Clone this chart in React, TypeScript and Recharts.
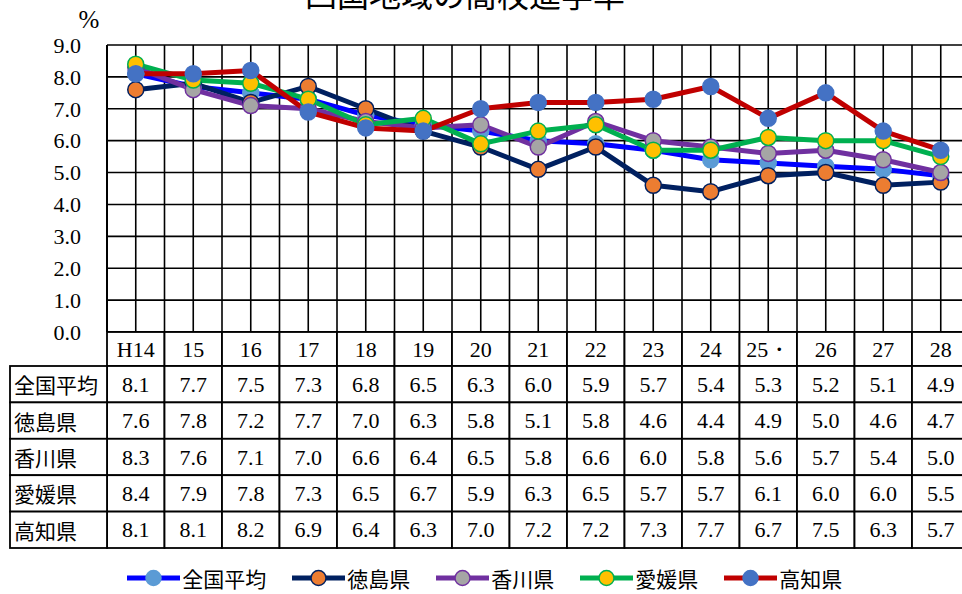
import React from 'react'
import { LineChart, Line, XAxis, YAxis, CartesianGrid, Legend } from 'recharts'

const years = ['H14', '15', '16', '17', '18', '19', '20', '21', '22', '23', '24', '25・', '26', '27', '28']

const zenkoku = [8.1, 7.7, 7.5, 7.3, 6.8, 6.5, 6.3, 6.0, 5.9, 5.7, 5.4, 5.3, 5.2, 5.1, 4.9]
const tokushima = [7.6, 7.8, 7.2, 7.7, 7.0, 6.3, 5.8, 5.1, 5.8, 4.6, 4.4, 4.9, 5.0, 4.6, 4.7]
const kagawa = [8.3, 7.6, 7.1, 7.0, 6.6, 6.4, 6.5, 5.8, 6.6, 6.0, 5.8, 5.6, 5.7, 5.4, 5.0]
const ehime = [8.4, 7.9, 7.8, 7.3, 6.5, 6.7, 5.9, 6.3, 6.5, 5.7, 5.7, 6.1, 6.0, 6.0, 5.5]
const kochi = [8.1, 8.1, 8.2, 6.9, 6.4, 6.3, 7.0, 7.2, 7.2, 7.3, 7.7, 6.7, 7.5, 6.3, 5.7]

const yTicks = [0, 1, 2, 3, 4, 5, 6, 7, 8, 9]

const SERIES = [
  { key: 'zenkoku', name: '全国平均', values: zenkoku, line: '#0000ff', fill: '#5b9bd5', stroke: '#5b9bd5' },
  { key: 'tokushima', name: '徳島県', values: tokushima, line: '#002060', fill: '#ed7d31', stroke: '#002060' },
  { key: 'kagawa', name: '香川県', values: kagawa, line: '#7030a0', fill: '#a5a5a5', stroke: '#7030a0' },
  { key: 'ehime', name: '愛媛県', values: ehime, line: '#00b050', fill: '#ffc000', stroke: '#00b050' },
  { key: 'kochi', name: '高知県', values: kochi, line: '#c00000', fill: '#4472c4', stroke: '#4472c4' },
]

const data = years.map((year, i) => {
  const row: any = { year }
  SERIES.forEach((s) => {
    row[s.key] = s.values[i]
  })
  return row
})

const CHART_W = 980
const CHART_H = 594
const Y_W = 107
const RIGHT = 10.5
const COL_W = (CHART_W - Y_W - RIGHT) / years.length
const HEAD_H = 34
const ROW_H = 36.4
const NUM_FONT = '"Liberation Serif", serif'
const JP_FONT = '"Noto Sans CJK JP", sans-serif'

// one table column per category, drawn at the axis tick position
const TableTick = (props: any) => {
  const { x, y, payload } = props
  const i = payload.index
  const left = x - COL_W / 2
  const cells = [
    <g key="head">
      <rect x={left} y={y} width={COL_W} height={HEAD_H} fill="#fff" stroke="#000" strokeWidth={1.8} />
      <text x={x} y={y + HEAD_H / 2} textAnchor="middle" dominantBaseline="central" fontFamily={NUM_FONT} fontSize={22} fill="#000">
        {payload.value}
      </text>
    </g>,
  ]
  SERIES.forEach((s, r) => {
    const top = y + HEAD_H + r * ROW_H
    cells.push(
      <g key={s.key}>
        <rect x={left} y={top} width={COL_W} height={ROW_H} fill="#fff" stroke="#000" strokeWidth={1.8} />
        <text x={x} y={top + ROW_H / 2} textAnchor="middle" dominantBaseline="central" fontFamily={NUM_FONT} fontSize={22} fill="#000">
          {s.values[i].toFixed(1)}
        </text>
      </g>
    )
    if (i === 0) {
      cells.push(
        <g key={s.key + '-h'}>
          <rect x={10} y={top} width={left - 10} height={ROW_H} fill="#fff" stroke="#000" strokeWidth={1.8} />
          <text x={14} y={top + ROW_H / 2} dominantBaseline="central" fontFamily={JP_FONT} fontSize={21} fill="#000">
            {s.name}
          </text>
        </g>
      )
    }
  })
  return <g>{cells}</g>
}

const LegendContent = () => (
  <div style={{ display: 'flex', justifyContent: 'center', alignItems: 'center', height: 30, gap: 26, fontFamily: JP_FONT, fontSize: 21, color: '#000' }}>
    {SERIES.map((s) => (
      <div key={s.key} style={{ display: 'flex', alignItems: 'center' }}>
        <svg width={53} height={20}>
          <line x1={0} y1={10} x2={53} y2={10} stroke={s.line} strokeWidth={5} />
          <circle cx={26.5} cy={10} r={7.5} fill={s.fill} stroke={s.stroke} strokeWidth={1.5} />
        </svg>
        <span style={{ marginLeft: 2 }}>{s.name}</span>
      </div>
    ))}
  </div>
)

const gridX = Array.from({ length: years.length * 2 + 1 }, (_, k) => Y_W + (k * COL_W) / 2)

export default function App() {
  return (
    <div style={{ position: 'relative', width: 962, height: 594, overflow: 'hidden', background: '#fff' }}>
      <style>{'body{margin:0}'}</style>
      <svg width={962} height={40} style={{ position: 'absolute', left: 0, top: 0 }}>
        <text x={465} y={7} textAnchor="middle" fontFamily={JP_FONT} fontSize={32} fill="#000">
          四国地域の高校進学率
        </text>
        <text x={89} y={28} textAnchor="middle" fontFamily={NUM_FONT} fontSize={25} fill="#000">
          %
        </text>
      </svg>
      <div style={{ position: 'absolute', left: 0, top: 0 }}>
        <LineChart width={CHART_W} height={CHART_H} data={data} margin={{ top: 45, right: RIGHT, left: 0, bottom: 1 }}>
          <CartesianGrid stroke="#000" strokeWidth={1.6} verticalPoints={gridX} />
          <XAxis
            dataKey="year"
            height={231}
            interval={0}
            padding={{ left: COL_W / 2, right: COL_W / 2 }}
            tickSize={0}
            tickMargin={0}
            tickLine={false}
            axisLine={{ stroke: '#000', strokeWidth: 2 }}
            tick={<TableTick />}
          />
          <YAxis
            width={Y_W}
            domain={[0, 9]}
            ticks={yTicks}
            interval={0}
            tickLine={false}
            tickSize={0}
            tickMargin={26}
            tickFormatter={(v) => v.toFixed(1)}
            tick={{ fill: '#000', fontSize: 22, fontFamily: NUM_FONT }}
            axisLine={{ stroke: '#000', strokeWidth: 2 }}
          />
          <Legend verticalAlign="bottom" content={<LegendContent />} />
          {SERIES.map((s) => (
            <Line
              key={s.key}
              dataKey={s.key}
              name={s.name}
              stroke={s.line}
              strokeWidth={5}
              strokeLinejoin="round"
              dot={{ r: 8, fill: s.fill, stroke: s.stroke, strokeWidth: 1.5 }}
              activeDot={false}
              isAnimationActive={false}
            />
          ))}
        </LineChart>
      </div>
    </div>
  )
}
